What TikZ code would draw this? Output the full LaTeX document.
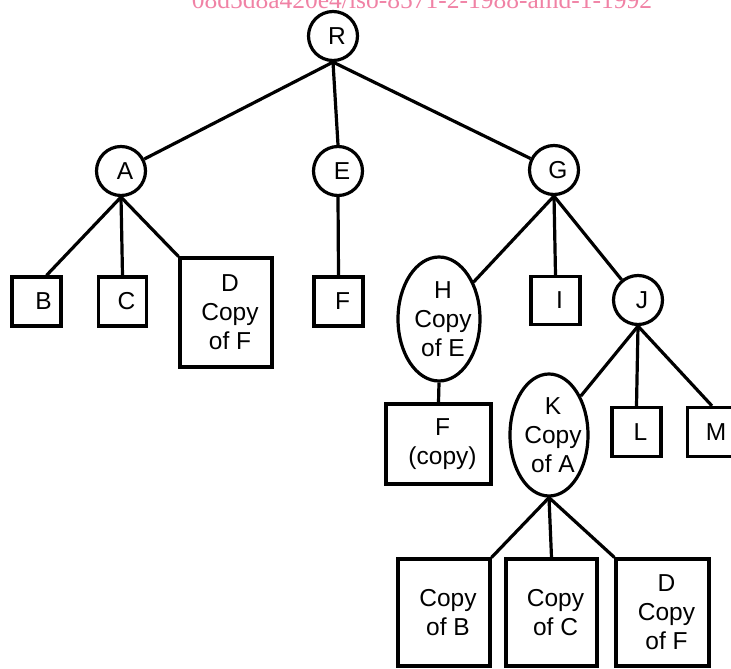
\documentclass[tikz,border=0pt]{standalone}
\usepackage{fontspec}
\setmainfont{Liberation Sans}
\newfontfamily\markfont{Liberation Serif}
\usetikzlibrary{shapes.geometric}
\definecolor{markpink}{RGB}{240,130,165}
\begin{document}
\begin{tikzpicture}[x=1pt,y=-1pt,line width=3.2pt,
  every node/.style={font=\fontsize{24.5}{29}\selectfont},
  circ/.style={circle,draw,minimum size=49pt,inner sep=0pt},
  rbox/.style={rectangle,draw,inner sep=0pt,minimum width=#1},
  oval/.style={ellipse,draw,inner sep=0pt},
  txt/.style={align=center,xshift=4pt,inner sep=0pt},
  t/.style={label={[txt]center:{#1}}},
]
\useasboundingbox (0,0) rectangle (731,669);

% document reference along the top
\node[font=\markfont\fontsize{25.5}{30}\selectfont,text=markpink,anchor=base,inner sep=0pt]
  (wm) at (422,9) {08d5d8a420e4/iso-8571-2-1988-amd-1-1992};

% root and first level
\node[circ,t={R}] (R) at (333,36) {};
\node[circ,t={A}] (A) at (121,171) {};
\node[circ,t={E}] (E) at (338,171) {};
\node[circ,t={G}] (G) at (554,170) {};

% children of A and E
\node[rbox=49pt,minimum height=49pt,label={[txt,xshift=3pt]center:B}] (B) at (36.5,301.5) {};
\node[rbox=48pt,minimum height=49pt,t={C}] (C) at (122.5,301.5) {};
\node[rbox=92pt,minimum height=109pt,t={D\\Copy\\of F}] (D) at (226,312.5) {};
\node[rbox=49pt,minimum height=49pt,t={F}] (F) at (338.5,301.5) {};

% children of G
\node[oval,minimum width=82pt,minimum height=124pt,t={H\\Copy\\of E}] (H) at (439,319) {};
\node[rbox=49pt,minimum height=48pt,t={I}] (I) at (555.5,300.5) {};
\node[circ,t={J}] (J) at (638,300) {};

% under H and J
\node[rbox=105pt,minimum height=80pt,t={F\\(copy)}] (Fc) at (438.5,444) {};
\node[oval,minimum width=78pt,minimum height=122pt,t={K\\Copy\\of A}] (K) at (549,435) {};
\node[rbox=49pt,minimum height=49pt,t={L}] (L) at (636.5,432) {};
\node[rbox=49pt,minimum height=49pt,t={M}] (M) at (712,432) {};

% children of K
\node[rbox=92pt,minimum height=107pt,t={Copy\\of B}] (CB) at (444,612.5) {};
\node[rbox=91pt,minimum height=107pt,t={Copy\\of C}] (CC) at (551.5,612.5) {};
\node[rbox=93pt,minimum height=107pt,t={D\\Copy\\of F}] (DF) at (662.5,612.5) {};

% connectors
\draw (R.south) -- (A);
\draw (R.south) -- (E.north);
\draw (R.south) -- (G);
\draw (A.south) -- ([xshift=10pt]B.north);
\draw (A.south) -- (C.north);
\draw (A.south) -- (D.north west);
\draw (E.south) -- (F.north);
\draw (G.south) -- (H);
\draw (G.south) -- (I.north);
\draw (G.south) -- (J);
\draw (H.south) -- (Fc.north);
\draw (J.south) -- (K);
\draw (J.south) -- (L.north);
\draw (J.south) -- (M.north);
\draw (K.south) -- (CB.north east);
\draw (K.south) -- (CC.north);
\draw (K.south) -- (DF.north west);
\end{tikzpicture}
\end{document}
